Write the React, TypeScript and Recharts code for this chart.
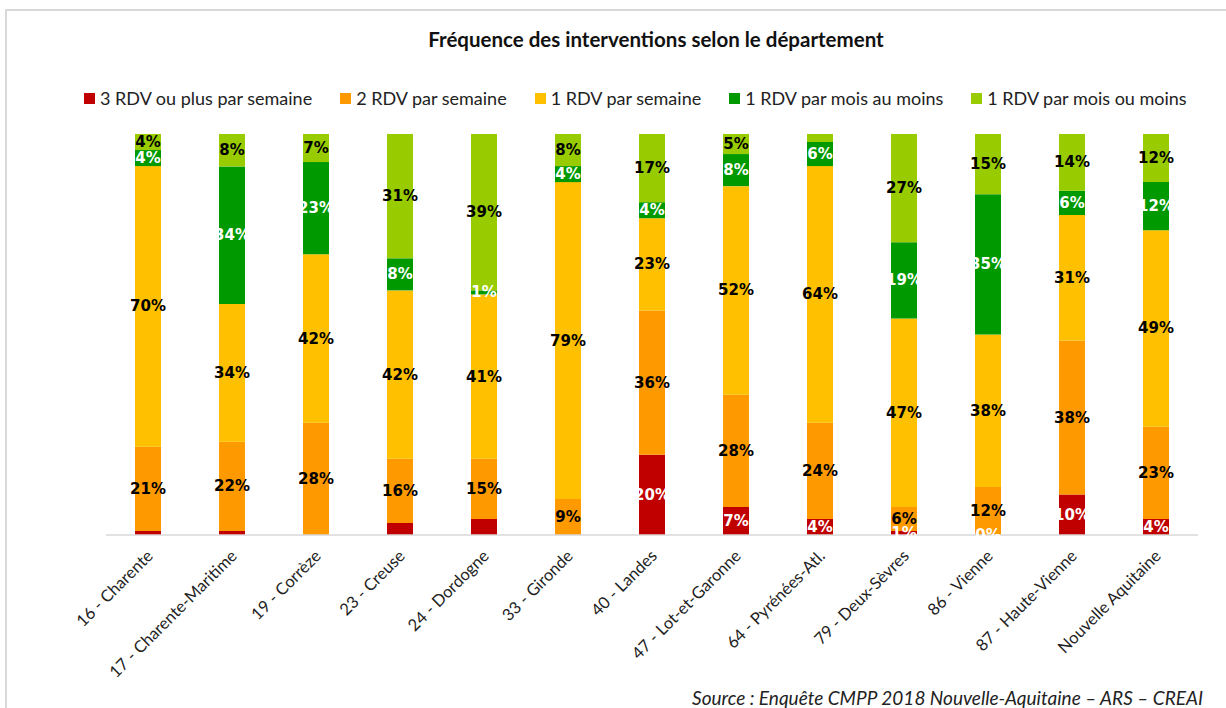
import { BarChart, Bar, XAxis, YAxis, LabelList } from "recharts";

const categories = [
  "16 - Charente",
  "17 - Charente-Maritime",
  "19 - Corrèze",
  "23 - Creuse",
  "24 - Dordogne",
  "33 - Gironde",
  "40 - Landes",
  "47 - Lot-et-Garonne",
  "64 - Pyrénées-Atl.",
  "79 - Deux-Sèvres",
  "86 - Vienne",
  "87 - Haute-Vienne",
  "Nouvelle Aquitaine",
];

// % par département
const rdv3Plus = [1, 1, null, 3, 4, null, 20, 7, 4, 1, 0, 10, 4];
const rdv2 = [21, 22, 28, 16, 15, 9, 36, 28, 24, 6, 12, 38, 23];
const rdv1 = [70, 34, 42, 42, 41, 79, 23, 52, 64, 47, 38, 31, 49];
const moisAuMoins = [4, 34, 23, 8, 1, 4, 4, 8, 6, 19, 35, 6, 12];
const moisOuMoins = [4, 8, 7, 31, 39, 8, 17, 5, 2, 27, 15, 14, 12];

// étiquettes absentes sur l'original
const hiddenLabels: Record<string, number[]> = {
  rdv3Plus: [0, 1, 3, 4],
  moisOuMoins: [8],
};

const series = [
  { key: "rdv3Plus", name: "3 RDV ou plus par semaine", values: rdv3Plus, color: "#C00000", text: "#fff" },
  { key: "rdv2", name: "2 RDV par semaine", values: rdv2, color: "#FF9900", text: "#000" },
  { key: "rdv1", name: "1 RDV par semaine", values: rdv1, color: "#FFC000", text: "#000" },
  { key: "moisAuMoins", name: "1 RDV par mois au moins", values: moisAuMoins, color: "#009900", text: "#fff" },
  { key: "moisOuMoins", name: "1 RDV par mois ou moins", values: moisOuMoins, color: "#99CC00", text: "#000" },
];

const data = categories.map((name, i) => {
  const row: any = { name };
  series.forEach((s) => {
    const v = s.values[i];
    row[s.key] = v ?? 0;
    const hidden = (hiddenLabels[s.key] || []).includes(i);
    row[s.key + "Label"] = v == null || hidden ? null : `${v}%`;
  });
  return row;
});

const FONT = "Lato, 'Open Sans', sans-serif";

const makeLabel = (color: string) => (props: any) => {
  const { x, y, width, height, value } = props;
  if (value == null) return null;
  return (
    <text
      x={Number(x) + Number(width) / 2}
      y={Number(y) + Number(height) / 2}
      textAnchor="middle"
      dominantBaseline="central"
      fill={color}
      fontFamily="'DejaVu Sans', Verdana, sans-serif"
      fontWeight="bold"
      fontSize={15}
    >
      {value}
    </text>
  );
};

const AxisTick = ({ x, y, payload }: any) => (
  <g transform={`translate(${x + 6},${y + 14})`}>
    <text
      textAnchor="end"
      transform="rotate(-45)"
      fontFamily={FONT}
      fontSize={16.5}
      fill="#222"
    >
      {payload.value}
    </text>
  </g>
);

export default function App() {
  return (
    <div
      style={{
        position: "fixed",
        left: 0,
        top: 0,
        width: 1226,
        height: 708,
        overflow: "hidden",
        background: "#fff",
        fontFamily: FONT,
      }}
    >
      <div
        style={{
          position: "absolute",
          left: 5,
          top: 9,
          width: 1260,
          height: 760,
          borderTop: "2px solid #d9d9d9",
          borderLeft: "2px solid #d9d9d9",
        }}
      />
      <div
        style={{
          position: "absolute",
          left: 0,
          width: 1312,
          top: 27,
          textAlign: "center",
          fontWeight: "bold",
          fontSize: 20.5,
          color: "#111",
        }}
      >
        Fréquence des interventions selon le département
      </div>
      <div
        style={{
          position: "absolute",
          left: 84,
          top: 87,
          display: "flex",
          gap: 28,
          fontSize: 18,
          color: "#222",
          whiteSpace: "nowrap",
        }}
      >
        {series.map((s) => (
          <div key={s.key} style={{ display: "flex", alignItems: "center", gap: 5 }}>
            <span style={{ width: 11, height: 11, background: s.color, display: "inline-block" }} />
            <span>{s.name}</span>
          </div>
        ))}
      </div>
      <div style={{ position: "absolute", left: 0, top: 0 }}>
        <BarChart
          width={1226}
          height={708}
          data={data}
          stackOffset="expand"
          margin={{ top: 134, right: 28, bottom: 13, left: 106 }}
        >
          <XAxis
            dataKey="name"
            interval={0}
            height={160}
            tickLine={false}
            axisLine={{ stroke: "#d9d9d9", strokeWidth: 1.5 }}
            tick={<AxisTick />}
          />
          <YAxis hide domain={[0, 1]} />
          {series.map((s) => (
            <Bar
              key={s.key}
              dataKey={s.key}
              name={s.name}
              stackId="a"
              fill={s.color}
              barSize={26}
              minPointSize={(v: number, i: number) => (v === 0 && s.values[i] === 0 ? 0.5 : 0)}
              isAnimationActive={false}
            >
              <LabelList dataKey={s.key + "Label"} content={makeLabel(s.text)} />
            </Bar>
          ))}
        </BarChart>
      </div>
      <div
        style={{
          position: "absolute",
          right: 23,
          top: 686,
          fontStyle: "italic",
          fontSize: 19,
          color: "#222",
        }}
      >
        Source : Enquête CMPP 2018 Nouvelle-Aquitaine – ARS – CREAI
      </div>
    </div>
  );
}
